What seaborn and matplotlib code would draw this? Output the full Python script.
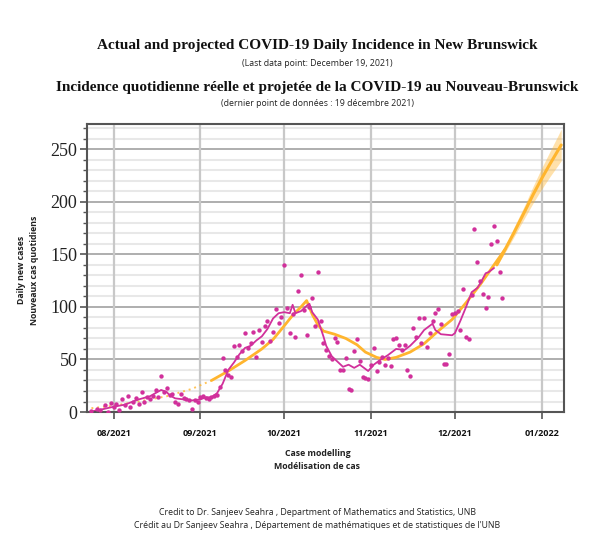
import pandas as pd
import numpy as np
import matplotlib
matplotlib.use("Agg")
import matplotlib.pyplot as plt
import matplotlib.dates as mdates
from matplotlib.ticker import MultipleLocator
import seaborn as sns

sns.set_theme(style="white")

# daily reported cases
case_dates = [
    "2021-07-24", "2021-07-26", "2021-07-27", "2021-07-29", "2021-07-30", "2021-07-31",
    "2021-08-01", "2021-08-02", "2021-08-03", "2021-08-04", "2021-08-05", "2021-08-06",
    "2021-08-07", "2021-08-08", "2021-08-09", "2021-08-10", "2021-08-11", "2021-08-12",
    "2021-08-13", "2021-08-14", "2021-08-15", "2021-08-16", "2021-08-17", "2021-08-18",
    "2021-08-19", "2021-08-20", "2021-08-21", "2021-08-22", "2021-08-23", "2021-08-24",
    "2021-08-25", "2021-08-26", "2021-08-27", "2021-08-28", "2021-08-29", "2021-08-30",
    "2021-08-31", "2021-09-01", "2021-09-02", "2021-09-03", "2021-09-04", "2021-09-05",
    "2021-09-06", "2021-09-07", "2021-09-08", "2021-09-09", "2021-09-10", "2021-09-11",
    "2021-09-12", "2021-09-13", "2021-09-14", "2021-09-15", "2021-09-16", "2021-09-17",
    "2021-09-18", "2021-09-19", "2021-09-20", "2021-09-21", "2021-09-22", "2021-09-23",
    "2021-09-24", "2021-09-25", "2021-09-26", "2021-09-27", "2021-09-28", "2021-09-29",
    "2021-09-30", "2021-10-01", "2021-10-02", "2021-10-03", "2021-10-04", "2021-10-05",
    "2021-10-06", "2021-10-07", "2021-10-08", "2021-10-09", "2021-10-10", "2021-10-11",
    "2021-10-12", "2021-10-13", "2021-10-14", "2021-10-15", "2021-10-16", "2021-10-17",
    "2021-10-18", "2021-10-19", "2021-10-20", "2021-10-21", "2021-10-22", "2021-10-23",
    "2021-10-24", "2021-10-25", "2021-10-26", "2021-10-27", "2021-10-28", "2021-10-29",
    "2021-10-30", "2021-10-31", "2021-11-01", "2021-11-02", "2021-11-03", "2021-11-04",
    "2021-11-05", "2021-11-06", "2021-11-07", "2021-11-08", "2021-11-09", "2021-11-10",
    "2021-11-11", "2021-11-12", "2021-11-13", "2021-11-14", "2021-11-15", "2021-11-16",
    "2021-11-17", "2021-11-18", "2021-11-19", "2021-11-20", "2021-11-21", "2021-11-22",
    "2021-11-23", "2021-11-24", "2021-11-25", "2021-11-26", "2021-11-27", "2021-11-28",
    "2021-11-29", "2021-11-30", "2021-12-01", "2021-12-02", "2021-12-03", "2021-12-04",
    "2021-12-05", "2021-12-06", "2021-12-07", "2021-12-08", "2021-12-09", "2021-12-10",
    "2021-12-11", "2021-12-12", "2021-12-13", "2021-12-14", "2021-12-15", "2021-12-16",
    "2021-12-17", "2021-12-18",
]
case_counts = [
    1, 3, 2, 7, 0, 9,
    5, 8, 2, 12, 7, 15,
    5, 10, 13, 8, 19, 10,
    14, 12, 15, 21, 14, 34,
    19, 23, 16, 17, 10, 8,
    17, 13, 12, 11, 3, 11,
    10, 14, 15, 13, 12, 14,
    15, 16, 24, 51, 40, 35,
    33, 63, 52, 64, 58, 75,
    61, 66, 76, 52, 78, 67,
    82, 87, 68, 76, 98, 85,
    90, 140, 99, 75, 93, 71,
    115, 130, 97, 73, 100, 108,
    82, 133, 87, 66, 59, 53,
    50, 70, 67, 40, 40, 51,
    22, 21, 58, 69, 49, 33,
    32, 31, 45, 61, 39, 48,
    52, 45, 51, 44, 69, 70,
    64, 59, 64, 40, 34, 80,
    71, 89, 66, 89, 62, 75,
    87, 94, 98, 84, 46, 46,
    55, 93, 94, 96, 78, 117,
    71, 69, 111, 174, 143, 125,
    112, 99, 109, 160, 177, 163,
    133, 108,
]

# rolling average (magenta line)
avg_dates = [
    "2021-07-23", "2021-07-27", "2021-08-01", "2021-08-05", "2021-08-10", "2021-08-14",
    "2021-08-18", "2021-08-20", "2021-08-21", "2021-08-23", "2021-08-26", "2021-08-29",
    "2021-09-01", "2021-09-03", "2021-09-05", "2021-09-07", "2021-09-09", "2021-09-11",
    "2021-09-13", "2021-09-15", "2021-09-17", "2021-09-19", "2021-09-21", "2021-09-23",
    "2021-09-25", "2021-09-27", "2021-09-29", "2021-10-01", "2021-10-03", "2021-10-04",
    "2021-10-05", "2021-10-07", "2021-10-09", "2021-10-10", "2021-10-11", "2021-10-13",
    "2021-10-15", "2021-10-16", "2021-10-18", "2021-10-20", "2021-10-22", "2021-10-24",
    "2021-10-26", "2021-10-28", "2021-10-30", "2021-10-31", "2021-11-02", "2021-11-04",
    "2021-11-07", "2021-11-10", "2021-11-13", "2021-11-15", "2021-11-18", "2021-11-20",
    "2021-11-23", "2021-11-24", "2021-11-26", "2021-11-30", "2021-12-01", "2021-12-03",
    "2021-12-05", "2021-12-07", "2021-12-09", "2021-12-10", "2021-12-12", "2021-12-13",
    "2021-12-15",
]
avg_values = [
    0, 2, 5, 7, 12, 15,
    21, 19, 16, 13, 12, 11,
    12, 14, 14, 18, 27, 40,
    47, 55, 61, 63, 68, 72,
    79, 89, 94, 95, 94, 102,
    94, 96, 101, 103, 95, 88,
    72, 63, 53, 48, 43, 45,
    42, 45, 41, 39, 45, 49,
    54, 60, 59, 63, 71, 78,
    84, 78, 74, 73, 75, 87,
    100, 114, 118, 122, 132, 133,
    137,
]

# model fit / projection (orange)
fit_dates = [
    "2021-07-22", "2021-08-01", "2021-08-10", "2021-08-20", "2021-08-29", "2021-09-05",
    "2021-09-11", "2021-09-17", "2021-09-23", "2021-09-27", "2021-10-01", "2021-10-04",
    "2021-10-07", "2021-10-09", "2021-10-11", "2021-10-13", "2021-10-15", "2021-10-19",
    "2021-10-23", "2021-10-27", "2021-10-30", "2021-11-03", "2021-11-06", "2021-11-10",
    "2021-11-15", "2021-11-20", "2021-11-25", "2021-11-30", "2021-12-05", "2021-12-10",
    "2021-12-15", "2021-12-19",
]
fit_values = [
    3, 6, 10, 15, 22, 30,
    39, 49, 60, 69, 82, 92,
    100, 106, 93, 83, 77, 74,
    70, 64, 57, 52, 50, 52,
    57, 65, 77, 88, 104, 121,
    140, 155,
]
proj_dates = ["2021-12-16", "2021-12-19", "2021-12-22", "2021-12-26", "2021-12-29",
              "2022-01-01", "2022-01-04", "2022-01-08"]
proj_mid = [140, 155, 170, 191, 207, 222, 236, 254]
proj_lo = [139, 152, 166, 185, 199, 212, 224, 239]
proj_hi = [142, 158, 175, 197, 215, 232, 248, 269]

month_ticks = ["2021-08-01", "2021-09-01", "2021-10-01", "2021-11-01", "2021-12-01", "2022-01-01"]

cases = pd.DataFrame({"date": pd.to_datetime(case_dates), "cases": case_counts})
avg = pd.DataFrame({"date": pd.to_datetime(avg_dates), "avg": avg_values})
fit = pd.DataFrame({"date": pd.to_datetime(fit_dates), "fit": fit_values})
proj = pd.DataFrame({"date": pd.to_datetime(proj_dates), "mid": proj_mid,
                     "lo": proj_lo, "hi": proj_hi})

magenta = "#d1309b"
orange = "#ffb52e"

fig = plt.figure(figsize=(6, 5.52), dpi=100)
ax = fig.add_axes([0.145, 0.2536, 0.795, 0.5218])

# grid: horizontal via grid(), vertical month lines drawn on top of the light minor lines
ax.yaxis.set_major_locator(MultipleLocator(50))
ax.yaxis.set_minor_locator(MultipleLocator(10))
ax.grid(which="minor", axis="y", color="#e8e8e8", lw=1.5, zorder=0)
ax.grid(which="major", axis="y", color="#a8a8a8", lw=1.3, zorder=0)
ax.set_axisbelow(True)
for d in pd.to_datetime(month_ticks):
    ax.axvline(d, color="#c8c8c8", lw=1.6, zorder=0.8)

# orange fit: dotted early part, solid afterwards
early = fit[fit["date"] <= "2021-09-05"]
late = fit[fit["date"] >= "2021-09-05"]
sns.lineplot(data=early, x="date", y="fit", ax=ax, color=orange, lw=1.4,
             linestyle=(0, (1, 2)), alpha=0.8)
sns.lineplot(data=late, x="date", y="fit", ax=ax, color=orange, lw=2.0)
ax.fill_between(proj["date"], proj["lo"], proj["hi"], color=orange, alpha=0.4, lw=0)
sns.lineplot(data=proj, x="date", y="mid", ax=ax, color=orange, lw=2.2)

sns.lineplot(data=avg, x="date", y="avg", ax=ax, color=magenta, lw=1.3)
sns.scatterplot(data=cases, x="date", y="cases", ax=ax, color=magenta, s=10,
                linewidth=0, zorder=5)

ax.set_xlim(pd.Timestamp("2021-07-22 12:00"), pd.Timestamp("2022-01-09"))
ax.set_ylim(0, 274)
ax.set_xticks(pd.to_datetime(month_ticks))
ax.xaxis.set_major_formatter(mdates.DateFormatter("%m/%Y"))
ax.set_xlabel("")
ax.set_ylabel("")

for s in ax.spines.values():
    s.set_color("#555555")
    s.set_linewidth(1.5)

ax.tick_params(axis="y", which="major", direction="out", length=5, width=1.2,
               color="#555555", left=True, pad=2)
ax.tick_params(axis="y", which="minor", direction="out", length=3, width=1.0,
               color="#555555", left=True)
ax.tick_params(axis="x", which="major", direction="out", length=5, width=1.2,
               color="#555555", bottom=True, pad=7)
for lab in ax.get_yticklabels():
    lab.set_fontfamily("Liberation Serif")
    lab.set_fontsize(13)
    lab.set_color("#222222")
for lab in ax.get_xticklabels():
    lab.set_fontfamily("Open Sans")
    lab.set_fontweight("bold")
    lab.set_fontsize(6.5)
    lab.set_color("#111111")

def py(y):
    return 1 - y / 552

cx = 317.5 / 600
serif = "Liberation Serif"
sans = "Open Sans"
fig.text(cx, py(45), "Actual and projected COVID-19 Daily Incidence in New Brunswick",
         ha="center", va="center", fontfamily=serif, fontweight="bold", fontsize=11,
         color="#111111")
fig.text(cx, py(64), "(Last data point: December 19, 2021)", ha="center", va="center",
         fontfamily=sans, fontsize=6.3, color="#222222")
fig.text(cx, py(87), "Incidence quotidienne réelle et projetée de la COVID-19 au Nouveau-Brunswick",
         ha="center", va="center", fontfamily=serif, fontweight="bold", fontsize=11,
         color="#111111")
fig.text(cx, py(104), "(dernier point de données : 19 décembre 2021)", ha="center",
         va="center", fontfamily=sans, fontsize=6.3, color="#222222")

fig.text(28 / 600, py(270), "Daily new cases\nNouveaux cas quotidiens", rotation=90,
         ha="center", va="center", fontfamily=sans, fontweight="bold", fontsize=6.3,
         linespacing=1.5, color="#222222")
fig.text(cx, py(460), "Case modelling\nModélisation de cas", ha="center", va="center",
         fontfamily=sans, fontweight="bold", fontsize=6.3, linespacing=1.6,
         color="#222222")
fig.text(cx, py(519),
         "Credit to Dr. Sanjeev Seahra , Department of Mathematics and Statistics, UNB\n"
         "Crédit au Dr Sanjeev Seahra , Département de mathématiques et de statistiques de l'UNB",
         ha="center", va="center", fontfamily=sans, fontsize=6.3, linespacing=1.6,
         color="#222222")

fig.savefig("out.png", dpi=100, facecolor="white")
